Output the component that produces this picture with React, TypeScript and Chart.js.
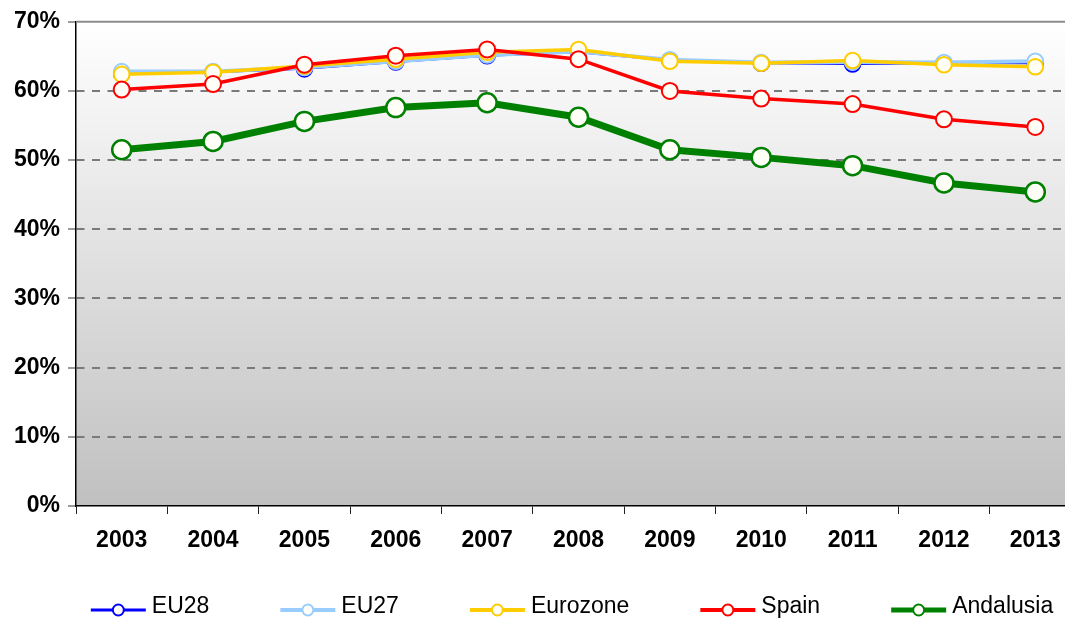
import React, { useEffect, useRef } from 'react';
import { Chart, registerables } from 'chart.js';

Chart.register(...registerables);

// ---- Data ----
const years = ['2003', '2004', '2005', '2006', '2007', '2008', '2009', '2010', '2011', '2012', '2013'];
const eu28 = [62.5, 62.7, 63.2, 64.2, 65.1, 65.6, 64.4, 64.0, 63.9, 64.0, 64.0];
const eu27 = [62.8, 62.8, 63.4, 64.3, 65.2, 65.7, 64.5, 64.1, 64.2, 64.1, 64.3];
const eurozone = [62.4, 62.7, 63.6, 64.6, 65.6, 66.0, 64.3, 64.0, 64.4, 63.8, 63.5];
const spain = [60.2, 61.0, 63.8, 65.1, 66.0, 64.6, 60.0, 58.9, 58.1, 55.9, 54.8];
const andalusia = [51.5, 52.7, 55.6, 57.6, 58.3, 56.2, 51.5, 50.4, 49.2, 46.7, 45.4];
const seriesNames = ['EU28', 'EU27', 'Eurozone', 'Spain', 'Andalusia'];
const yTickLabels = ['0%', '10%', '20%', '30%', '40%', '50%', '60%', '70%'];

// ---- Styles ----
const FONT = "'Liberation Sans', Arial, sans-serif";
const CANVAS_W = 1085;
const CANVAS_H = 621;
const colors = ['#0000ff', '#99ccff', '#ffcc00', '#ff0000', '#008000'];
const lineWidths = [2, 4, 3.5, 3.5, 7];
const radii = [7.8, 7.8, 7.8, 8, 9.5];
const legendLineWidths = [3, 4, 4, 4, 5];
const MARKER_FILL = '#fffff8';
const LEGEND_CENTER_X = 572;
const LEGEND_TEXT_Y = 607;
const LEGEND_LINE_Y = 610;
const LEGEND_FONT_SIZE = 23;
const LEGEND_MARKER_W = 55;
const LEGEND_TEXT_GAP = 6;
const LEGEND_ITEM_GAP = 71;

const plotPlugin = {
  id: 'plotDecor',
  beforeDraw(chart: any) {
    const { ctx, chartArea: a } = chart;
    const grad = ctx.createLinearGradient(0, a.top, 0, a.bottom);
    grad.addColorStop(0, '#ffffff');
    grad.addColorStop(1, '#c0c0c0');
    ctx.save();
    ctx.fillStyle = grad;
    ctx.fillRect(a.left, a.top, a.right - a.left, a.bottom - a.top);
    ctx.restore();
  },
  beforeDatasetsDraw(chart: any) {
    const { ctx, chartArea: a } = chart;
    ctx.save();
    ctx.strokeStyle = '#8c8c8c';
    ctx.lineWidth = 2;
    ctx.beginPath();
    ctx.moveTo(a.left, a.top);
    ctx.lineTo(a.right, a.top);
    ctx.stroke();
    ctx.restore();
  },
  afterDraw(chart: any) {
    const { ctx } = chart;
    const dsets = chart.data.datasets;
    ctx.save();
    ctx.font = `${LEGEND_FONT_SIZE}px ${FONT}`;
    const widths = dsets.map(
      (d: any) => LEGEND_MARKER_W + LEGEND_TEXT_GAP + ctx.measureText(d.label).width
    );
    const total = widths.reduce((s: number, w: number) => s + w, 0) + LEGEND_ITEM_GAP * (dsets.length - 1);
    let x = LEGEND_CENTER_X - total / 2;
    dsets.forEach((d: any, i: number) => {
      const color = d.borderColor;
      ctx.strokeStyle = color;
      ctx.lineWidth = legendLineWidths[i];
      ctx.beginPath();
      ctx.moveTo(x, LEGEND_LINE_Y);
      ctx.lineTo(x + LEGEND_MARKER_W, LEGEND_LINE_Y);
      ctx.stroke();
      ctx.beginPath();
      ctx.arc(x + LEGEND_MARKER_W / 2, LEGEND_LINE_Y, 5.5, 0, Math.PI * 2);
      ctx.fillStyle = MARKER_FILL;
      ctx.fill();
      ctx.lineWidth = 2;
      ctx.stroke();
      ctx.fillStyle = '#000';
      ctx.textAlign = 'left';
      ctx.textBaseline = 'middle';
      ctx.fillText(d.label, x + LEGEND_MARKER_W + LEGEND_TEXT_GAP, LEGEND_TEXT_Y);
      x += widths[i] + LEGEND_ITEM_GAP;
    });
    ctx.restore();
  },
};

export default function App() {
  const ref = useRef<HTMLCanvasElement>(null);

  useEffect(() => {
    const canvas = ref.current;
    if (!canvas) return;
    const seriesData = [eu28, eu27, eurozone, spain, andalusia];
    const datasets = seriesNames.map((name, i) => ({
      label: name,
      data: seriesData[i],
      borderColor: colors[i],
      backgroundColor: colors[i],
      borderWidth: lineWidths[i],
      pointRadius: radii[i],
      pointBorderWidth: i === 4 ? 2.5 : 2,
      pointBackgroundColor: MARKER_FILL,
      pointBorderColor: colors[i],
      tension: 0,
      fill: false,
      order: 5 - i,
    }));

    const chart = new Chart(canvas, {
      type: 'line',
      data: { labels: years, datasets },
      plugins: [plotPlugin],
      options: {
        responsive: false,
        animation: false,
        devicePixelRatio: 1,
        layout: { autoPadding: false, padding: { top: 19, left: 0, right: 4, bottom: 65 } },
        plugins: {
          tooltip: { enabled: false },
          legend: { display: false },
        },
        scales: {
          x: {
            type: 'category',
            offset: true,
            grid: {
              offset: true,
              drawOnChartArea: false,
              drawTicks: true,
              tickLength: 8,
              color: '#000',
              tickColor: '#222',
              lineWidth: 1,
            },
            border: { display: true, color: '#000', width: 1.5 },
            ticks: {
              color: '#000',
              font: { family: FONT, size: 23, weight: 'bold' },
              padding: 13,
              maxRotation: 0,
              autoSkip: false,
            },
            afterFit: (s: any) => {
              s.height = 50;
            },
          },
          y: {
            type: 'linear',
            min: 0,
            max: 70,
            ticks: {
              stepSize: 10,
              color: '#000',
              padding: 8,
              font: { family: FONT, size: 23, weight: 'bold' },
              callback: (_v: any, i: number) => yTickLabels[i],
            },
            grid: {
              color: (ctx: any) =>
                ctx.tick && (ctx.tick.value === 0 || ctx.tick.value === 70) ? 'rgba(0,0,0,0)' : '#7a7a7a',
              lineWidth: 2,
              tickColor: '#7a7a7a',
              tickWidth: 1.5,
              tickLength: 8,
            },
            border: { display: true, color: '#000', width: 1.5, dash: [8, 7.5] },
            afterFit: (s: any) => {
              s.width = 76;
            },
          },
        },
      } as any,
    });

    return () => chart.destroy();
  }, []);

  return (
    <div
      style={{
        position: 'fixed',
        left: 0,
        top: 0,
        width: 1065,
        height: 621,
        overflow: 'hidden',
        background: '#fff',
      }}
    >
      <canvas
        ref={ref}
        width={CANVAS_W}
        height={CANVAS_H}
        style={{ display: 'block', width: CANVAS_W, height: CANVAS_H }}
      />
    </div>
  );
}
